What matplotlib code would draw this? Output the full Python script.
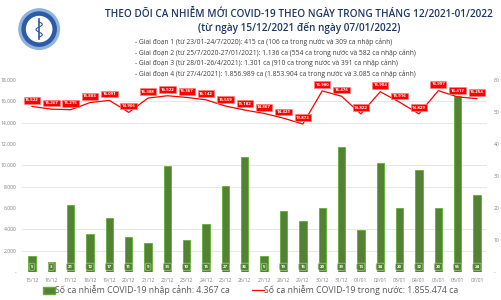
import numpy as np
import matplotlib.pyplot as plt
from matplotlib.patches import Circle, Rectangle
from matplotlib.lines import Line2D

# data
dates = ['15/12', '16/12', '17/12', '18/12', '19/12', '20/12', '21/12', '22/12',
         '23/12', '24/12', '25/12', '26/12', '27/12', '28/12', '29/12', '30/12',
         '31/12', '01/01', '02/01', '03/01', '04/01', '05/01', '06/01', '07/01']
imported = [5, 3, 21, 12, 17, 11, 9, 33, 10, 15, 27, 36, 5, 19, 16, 20,
            39, 13, 34, 20, 32, 20, 55, 24]
domestic = [15522, 15267, 15215, 15883, 16091, 14966, 16308, 16522, 16367, 16142,
            15559, 15182, 14867, 14421, 13873, 16980, 16476, 14822, 16904, 15916,
            14829, 16997, 16417, 16254]

stages = [
    '- Giai đoạn 1 (từ 23/01-24/7/2020): 415 ca (106 ca trong nước và 309 ca nhập cảnh)',
    '- Giai đoạn 2 (từ 25/7/2020-27/01/2021): 1.136 ca (554 ca trong nước và 582 ca nhập cảnh)',
    '- Giai đoạn 3 (từ 28/01-26/4/2021): 1.301 ca (910 ca trong nước và 391 ca nhập cảnh)',
    '- Giai đoạn 4 (từ 27/4/2021): 1.856.989 ca (1.853.904 ca trong nước và 3.085 ca nhập cảnh)',
]

def dotfmt(v):
    return '{:,}'.format(v).replace(',', '.')

plt.rcParams['font.family'] = ['Open Sans', 'DejaVu Sans']

fig = plt.figure(figsize=(5.02, 3.0), dpi=100)

# title block
navy = '#1f3864'
fig.text(0.595, 0.953, 'THEO DÕI CA NHIỄM MỚI COVID-19 THEO NGÀY TRONG THÁNG 12/2021-01/2022',
         ha='center', va='center', fontsize=7.2, color=navy, fontweight='semibold')
fig.text(0.595, 0.908, '(từ ngày 15/12/2021 đến ngày 07/01/2022)',
         ha='center', va='center', fontsize=7.2, color=navy, fontweight='semibold')
for k, s in enumerate(stages):
    fig.text(0.268, 0.86 - k * 0.036, s, ha='left', va='center', fontsize=4.9, color='#404040')

# logo
logo = fig.add_axes([0.033, 0.828, 0.09, 0.15])
logo.set_xlim(-1, 1)
logo.set_ylim(-1, 1)
logo.set_aspect('equal')
logo.axis('off')
logo.add_patch(Circle((0, 0), 0.9, color='#8fb4dc'))
logo.add_patch(Circle((0, 0), 0.76, color='#2e5aa8'))
logo.add_patch(Circle((0, 0), 0.56, color='white'))
logo.plot([0, 0], [-0.45, 0.45], color='#2e5aa8', lw=1.2)
logo.plot(np.sin(np.linspace(0, 3 * np.pi, 40)) * 0.14, np.linspace(-0.36, 0.32, 40), color='#2e5aa8', lw=0.8)

# chart
ax = fig.add_axes([0.0444, 0.0933, 0.925, 0.64])
ax2 = ax.twinx()
x = np.arange(len(dates))

ax.bar(x, imported, width=0.38, color='#548235', edgecolor='#5fb030', linewidth=0.6, zorder=2)
ax.set_ylim(0, 60)
ax.set_xlim(-0.5, len(dates) - 0.5)
ax.yaxis.tick_right()
ax.set_yticks(np.arange(0, 61, 10))
ax.set_yticklabels(['-'] + [str(v) for v in range(10, 61, 10)])
ax.set_yticks(np.linspace(0, 60, 10), minor=True)
ax.grid(which='minor', axis='y', color='#e6e6e6', lw=0.7, zorder=0)
ax.tick_params(which='both', length=0)
ax.tick_params(axis='y', labelsize=3.6, labelcolor='#7f7f7f', pad=5)
ax.set_xticks(x)
ax.set_xticklabels(dates)
ax.tick_params(axis='x', labelsize=3.6, labelcolor='#7f7f7f', pad=4)
for sp in ax.spines.values():
    sp.set_visible(False)

for i, v in enumerate(imported):
    ax.annotate(str(v), xy=(i, 0), xytext=(0, 3.8), textcoords='offset points',
                ha='center', va='center', fontsize=3.2, color='white', fontweight='bold',
                bbox=dict(boxstyle='round,pad=0.35', fc='#548235', ec='#a9d18e', lw=0.5),
                zorder=3)

ax2.plot(x, domestic, color='#ff0000', lw=0.9, zorder=3)
ax2.set_ylim(0, 18000)
ax2.yaxis.tick_left()
ax2.set_yticks(np.arange(0, 18001, 2000))
ax2.set_yticklabels(['-'] + [dotfmt(v) for v in range(2000, 18001, 2000)])
ax2.tick_params(length=0, labelsize=3.6, labelcolor='#7f7f7f', pad=4)
for sp in ax2.spines.values():
    sp.set_visible(False)

for i, v in enumerate(domestic):
    ax2.annotate(dotfmt(v), xy=(i, v), xytext=(0, 4.5), textcoords='offset points',
                 ha='center', va='center', fontsize=3.2, color='white', fontweight='bold',
                 bbox=dict(boxstyle='square,pad=0.3', fc='#ff0000', ec='#ff8080', lw=0.5),
                 zorder=4)

# legend
handles = [Rectangle((0, 0), 1, 1, fc='#548235', ec='#5fb030'),
           Line2D([], [], color='#ff0000', lw=0.9)]
labels = ['Số ca nhiễm COVID-19 nhập cảnh: 4.367 ca',
          'Số ca nhiễm COVID-19 trong nước: 1.855.474 ca']
fig.legend(handles, labels, loc='center', bbox_to_anchor=(0.5, 0.032), ncol=2,
           frameon=False, fontsize=6.3, labelcolor='#595959', handlelength=1.3,
           handleheight=0.9, handletextpad=0.1, columnspacing=2.5)

fig.savefig('out.png', dpi=100)
